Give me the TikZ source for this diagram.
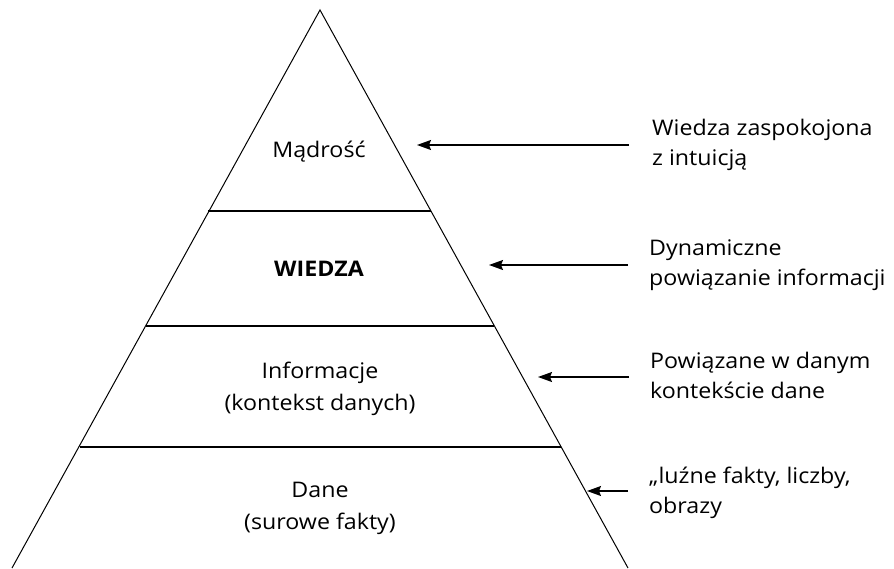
\documentclass[tikz,border=0pt]{standalone}
\usepackage{fontspec}
\setmainfont{Open Sans}[FakeStretch=1.08]
\usetikzlibrary{arrows.meta}
\begin{document}
\begin{tikzpicture}[x=1pt,y=-1pt,
  edge/.style={line width=1pt,black},
  level/.style={line width=1.3pt,black},
  pointer/.style={line width=1.4pt,-{Stealth[length=14pt,width=10pt,inset=2pt]}},
  label/.style={font=\fontsize{21.5}{31.5}\selectfont,align=center,inner sep=0pt,anchor=base},
  note/.style={font=\fontsize{21.5}{30}\selectfont,align=left,anchor=base west,inner sep=0pt}]
\useasboundingbox (0,0) rectangle (894,568);
\begin{scope}
\clip (0,0) rectangle (894,568);
\coordinate (apex) at (320,10);
\coordinate (bl) at (12,568);
\coordinate (br) at (628,568);
\draw[edge] (bl) -- (apex) -- (br);
\coordinate (l1a) at (208,211); \coordinate (l1b) at (431,211);
\coordinate (l2a) at (146,326); \coordinate (l2b) at (494,326);
\coordinate (l3a) at (80,447);  \coordinate (l3b) at (561,447);
\draw[level] (l1a) -- (l1b);
\draw[level] (l2a) -- (l2b);
\draw[level] (l3a) -- (l3b);
\end{scope}
\node[label] (madrosc) at (319,157) {Mądrość};
\node[label,font=\fontsize{21.5}{30}\selectfont\bfseries] (wiedza) at (319,276) {WIEDZA};
\node[label] (info) at (320,410) {Informacje\\(kontekst danych)};
\node[label] (dane) at (320,529) {Dane\\(surowe fakty)};
\node[note] (n1) at (652,165) {Wiedza zaspokojona\\z intuicją};
\node[note] (n2) at (649,285) {Dynamiczne\\powiązanie informacji};
\node[note] (n3) at (650,398) {Powiązane w danym\\kontekście dane};
\node[note] (n4) at (649,513) {„luźne fakty, liczby,\\obrazy};
\coordinate (s1) at (629,145); \coordinate (e1) at (417,145);
\coordinate (s2) at (628,265); \coordinate (e2) at (489,265);
\coordinate (s3) at (629,377); \coordinate (e3) at (538,377);
\coordinate (s4) at (628,491); \coordinate (e4) at (587,491);
\draw[pointer] (s1) -- (e1);
\draw[pointer] (s2) -- (e2);
\draw[pointer] (s3) -- (e3);
\draw[pointer] (s4) -- (e4);
\end{tikzpicture}
\end{document}
